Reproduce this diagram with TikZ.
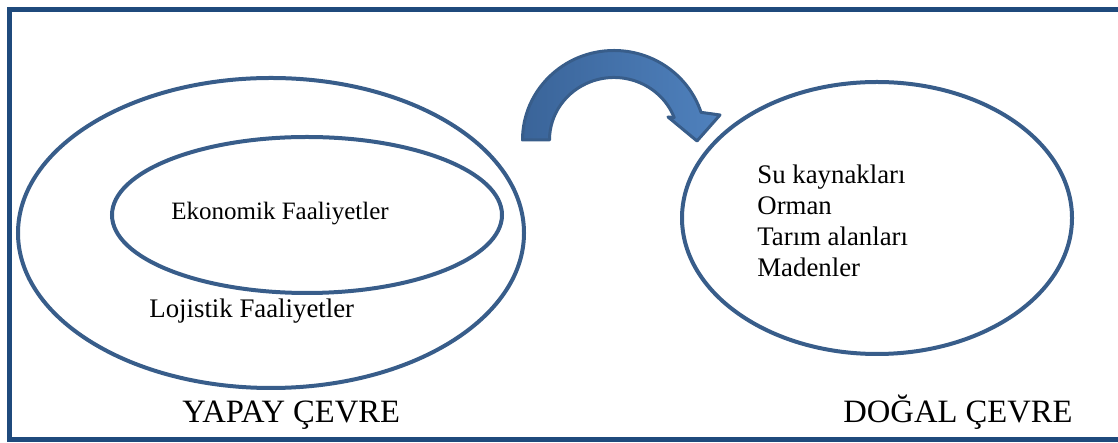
\documentclass[tikz,border=0pt]{standalone}
\usepackage{fontspec}
\setmainfont{Liberation Serif}
\usetikzlibrary{shapes.geometric, positioning}
\definecolor{cerceve}{HTML}{1F4A7C}
\definecolor{cizgi}{HTML}{385D8A}
\definecolor{okkoyu}{HTML}{3A6499}
\definecolor{okacik}{HTML}{4F81BD}

\begin{document}
\begin{tikzpicture}[x=0.5pt, y=0.5pt,
    halka/.style={ellipse, draw=cizgi, line width=2pt, inner sep=0pt},
    yazi/.style={font=\fontsize{12.5}{15.5}\selectfont, inner sep=0pt},
    liste/.style={font=\fontsize{13.4}{15.5}\selectfont, inner sep=0pt},
    baslik/.style={font=\fontsize{16.3}{19}\selectfont, inner sep=0pt}]
  \useasboundingbox (0,0) rectangle (1118,443);
  \clip (0,0) rectangle (1118,443);
  \draw[cerceve, line width=2.5pt] (9.5,3) rectangle (1130,433);

  % cevreler
  \node[halka, minimum width=253pt, minimum height=155pt] (yapay) at (271,210) {};
  \node[halka, minimum width=195pt, minimum height=78pt] (ekonomik) at (307,228) {};
  \node[halka, minimum width=195pt, minimum height=136pt] (dogal) at (877,225) {};

  \node[yazi] (eko) at (280,229) {Ekonomik Faaliyetler};
  \node[liste, anchor=base west] (lojistik) at (149,125) {Lojistik Faaliyetler};
  \node[liste, anchor=base west, align=left] (kaynak) at (757,166)
    {Su kaynakları\\Orman\\Tarım alanları\\Madenler};

  \node[baslik, anchor=base west] (yapayad) at (182,20) {YAPAY ÇEVRE};
  \node[baslik, anchor=base west] (dogalad) at (843,20) {DOĞAL ÇEVRE};

  % egri ok
  \draw[draw=cizgi, line width=1.5pt, left color=okkoyu, right color=okacik, line join=round]
    (522.5,303) arc[start angle=180, end angle=18, x radius=91.5, y radius=89.5]
    -- (720,328) -- (697,302) -- (668,326) -- (674.2,325.4)
    arc[start angle=21, end angle=180, x radius=64.5, y radius=62.5] -- cycle;
\end{tikzpicture}
\end{document}
